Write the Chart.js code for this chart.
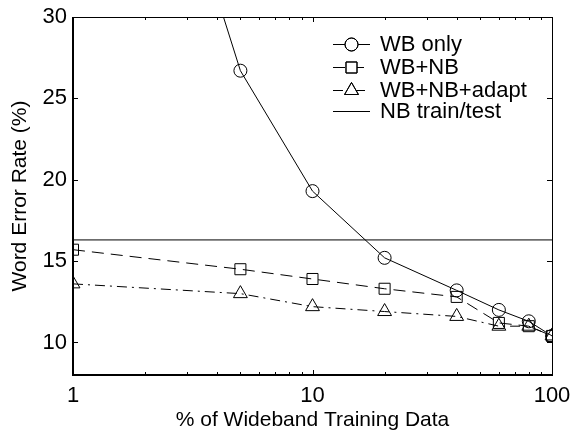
<!DOCTYPE html>
<html>
<head>
<meta charset="utf-8">
<script src="https://cdn.jsdelivr.net/npm/chart.js@4.4.0/dist/chart.umd.min.js"></script>
<style>
  html, body { margin: 0; padding: 0; background: #fff; }
</style>
</head>
<body>
<canvas id="werChart" width="572" height="431"></canvas>
<script>
// Data
const trainPct = [1, 5, 10, 20, 40, 60, 80, 100];
const wbOnly = [59.3, 26.7, 19.3, 15.2, 13.2, 12.0, 11.3, 10.4];
const wbNb = [15.7, 14.5, 13.9, 13.3, 12.8, 11.2, 11.0, 10.4];
const wbNbAdapt = [13.6, 13.0, 12.2, 11.9, 11.6, 11.0, 11.0, 10.4];
const nbTrainTest = 16.3;
const xTicks = [1, 10, 100];
const yTicks = [10, 15, 20, 25, 30];

const FONT = "'Liberation Sans', Arial, Helvetica, sans-serif";

function toPoints(values) {
  return trainPct.map((x, i) => ({ x: x, y: values[i] }));
}

const datasets = [
  {
    label: "WB only",
    data: toPoints(wbOnly),
    borderDash: [],
    pointStyle: "circle",
    pointRadius: 6.5,
  },
  {
    label: "WB+NB",
    data: toPoints(wbNb),
    borderDash: [12, 7],
    pointStyle: "rect",
    pointRadius: 7.8,
  },
  {
    label: "WB+NB+adapt",
    data: toPoints(wbNbAdapt),
    borderDash: [10, 5, 2, 5],
    pointStyle: "triangle",
    pointRadius: 8,
  },
  {
    label: "NB train/test",
    data: [
      { x: trainPct[0], y: nbTrainTest },
      { x: trainPct[trainPct.length - 1], y: nbTrainTest },
    ],
    borderDash: [],
    pointStyle: false,
    pointRadius: 0,
  },
].map((d) => ({
  ...d,
  borderColor: "#000",
  borderWidth: 1,
  pointBorderColor: "#000",
  pointBackgroundColor: "rgba(0,0,0,0)",
  pointBorderWidth: 1,
  pointHoverRadius: d.pointRadius,
  tension: 0,
  fill: false,
}));

// Box, inward ticks
const framePlugin = {
  id: "frame",
  afterDatasetsDraw(chart) {
    const { ctx, chartArea: a, scales } = chart;
    const xs = scales.x, ys = scales.y;
    ctx.save();
    ctx.strokeStyle = "#000";
    ctx.lineWidth = 1;
    ctx.beginPath();
    ctx.moveTo(a.left, a.top + 0.5);
    ctx.lineTo(a.right + 0.5, a.top + 0.5);
    ctx.lineTo(a.right + 0.5, a.bottom);
    ctx.stroke();

    ctx.beginPath();
    // y ticks, left and right
    yTicks.forEach((v) => {
      const py = Math.round(ys.getPixelForValue(v)) + 0.5;
      ctx.moveTo(a.left, py);
      ctx.lineTo(a.left + 5, py);
      ctx.moveTo(a.right, py);
      ctx.lineTo(a.right - 5, py);
    });
    // x ticks, major and minor, bottom and top
    for (let dec = 1; dec < 100; dec *= 10) {
      for (let m = 1; m <= 10; m++) {
        const v = dec * m;
        const px = Math.round(xs.getPixelForValue(v)) + 0.5;
        const len = m === 1 || m === 10 ? 5 : 3;
        ctx.moveTo(px, a.bottom);
        ctx.lineTo(px, a.bottom - len);
        ctx.moveTo(px, a.top);
        ctx.lineTo(px, a.top + len);
      }
    }
    ctx.stroke();

    ctx.lineWidth = 2;
    ctx.beginPath();
    ctx.moveTo(a.left, a.top);
    ctx.lineTo(a.left, a.bottom);
    ctx.lineTo(a.right + 1, a.bottom);
    ctx.stroke();
    ctx.restore();
  },
};

// Legend with line sample and marker
const legendPlugin = {
  id: "lineLegend",
  afterDraw(chart) {
    const { ctx } = chart;
    const x0 = 333, x1 = 370, textX = 380;
    const rowY = [44, 67, 90, 111];
    ctx.save();
    chart.data.datasets.forEach((ds, i) => {
      const y = rowY[i] + 0.5;
      ctx.strokeStyle = "#000";
      ctx.lineWidth = 1;
      ctx.setLineDash(ds.borderDash);
      ctx.beginPath();
      ctx.moveTo(x0, y);
      ctx.lineTo(x1, y);
      ctx.stroke();
      ctx.setLineDash([]);
      if (ds.pointStyle) {
        ctx.fillStyle = "#fff";
        Chart.helpers.drawPoint(
          ctx,
          { pointStyle: ds.pointStyle, radius: ds.pointRadius, borderWidth: 1 },
          (x0 + x1) / 2,
          y
        );
        ctx.stroke();
      }
      ctx.fillStyle = "#000";
      ctx.font = "22px " + FONT;
      ctx.textBaseline = "middle";
      ctx.fillText(ds.label, textX, rowY[i] + 1);
    });
    ctx.restore();
  },
};

new Chart(document.getElementById("werChart"), {
  type: "line",
  data: { datasets: datasets },
  options: {
    responsive: false,
    animation: false,
    layout: { padding: { top: 17, right: 20, left: 0, bottom: 0 } },
    plugins: {
      legend: { display: false },
      tooltip: { enabled: false },
    },
    scales: {
      x: {
        type: "logarithmic",
        min: 1,
        max: 100,
        grid: { display: false, drawTicks: false },
        border: { display: false },
        ticks: {
          color: "#000",
          font: { family: FONT, size: 22 },
          padding: 8,
          maxRotation: 0,
          callback: (v) => String(v),
        },
        afterBuildTicks: (scale) => {
          scale.ticks = xTicks.map((v) => ({ value: v }));
        },
        afterFit: (scale) => {
          scale.height = 56;
          scale.paddingLeft = 0;
          scale.paddingRight = 0;
        },
        title: {
          display: true,
          text: "% of Wideband Training Data",
          color: "#000",
          font: { family: FONT, size: 21, lineHeight: 1 },
          padding: { top: 0, bottom: 0 },
        },
      },
      y: {
        min: 8,
        max: 30,
        grid: { display: false, drawTicks: false },
        border: { display: false },
        ticks: {
          color: "#000",
          font: { family: FONT, size: 22 },
          padding: 6,
        },
        afterBuildTicks: (scale) => {
          scale.ticks = yTicks.map((v) => ({ value: v }));
        },
        afterFit: (scale) => {
          scale.width = 73;
          scale.paddingTop = 0;
          scale.paddingBottom = 0;
        },
        title: {
          display: true,
          text: "Word Error Rate (%)",
          color: "#000",
          font: { family: FONT, size: 21, lineHeight: 1 },
          padding: { top: 10, bottom: 0 },
        },
      },
    },
  },
  plugins: [framePlugin, legendPlugin],
});
</script>
</body>
</html>
